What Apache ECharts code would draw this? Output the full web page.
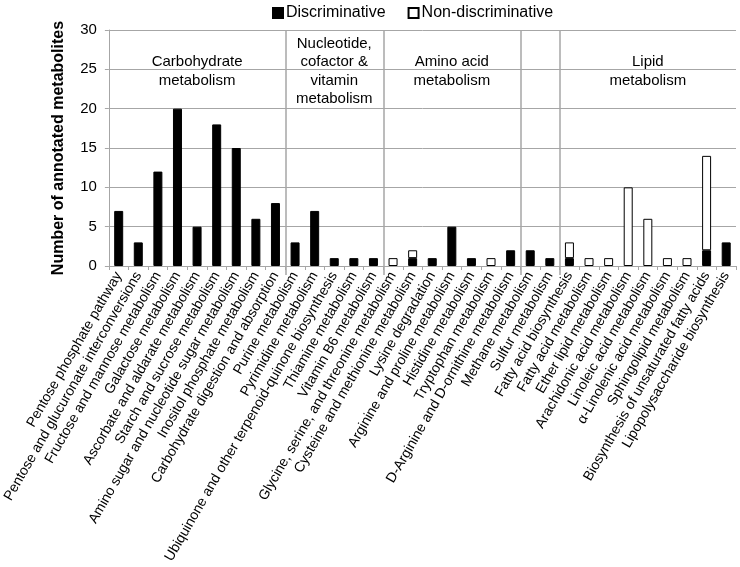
<!DOCTYPE html>
<html>
<head>
<meta charset="utf-8">
<script src="https://cdn.jsdelivr.net/npm/echarts@6/dist/echarts.min.js"></script>
<style>
html,body{margin:0;padding:0;background:#fff;}
#chart{width:740px;height:567px;}
</style>
</head>
<body>
<div id="chart"></div>
<script>
const categories = [
  'Pentose phosphate pathway',
  'Pentose and glucuronate interconversions',
  'Fructose and mannose metabolism',
  'Galactose metabolism',
  'Ascorbate and aldarate metabolism',
  'Starch and sucrose metabolism',
  'Amino sugar and nucleotide sugar metabolism',
  'Inositol phosphate metabolism',
  'Carbohydrate digestion and absorption',
  'Purine metabolism',
  'Pyrimidine metabolism',
  'Ubiquinone and other terpenoid-quinone biosynthesis',
  'Thiamine metabolism',
  'Vitamin B6 metabolism',
  'Glycine, serine, and threonine metabolism',
  'Cysteine and methionine metabolism',
  'Lysine degradation',
  'Arginine and proline metabolism',
  'Histidine metabolism',
  'Tryptophan metabolism',
  'D-Arginine and D-ornithine metabolism',
  'Methane metabolism',
  'Sulfur metabolism',
  'Fatty acid biosynthesis',
  'Fatty acid metabolism',
  'Ether lipid metabolism',
  'Arachidonic acid metabolism',
  'Linoleic acid metabolism',
  'α-Linolenic acid metabolism',
  'Sphingolipid metabolism',
  'Biosynthesis of unsaturated fatty acids',
  'Lipopolysaccharide biosynthesis'
];
const discriminative = [7,3,12,20,5,18,15,6,8, 3,7,1,1,1, 0,1,1,5,1,0,2, 2,1, 1,0,0,0,0,0,0,2,3];
const nonDiscriminative = [0,0,0,0,0,0,0,0,0, 0,0,0,0,0, 1,1,0,0,0,1,0, 0,0, 2,1,1,10,6,1,1,12,0];
const sectionNames = ['Carbohydrate\nmetabolism', 'Nucleotide,\ncofactor &\nvitamin\nmetabolism', 'Amino acid\nmetabolism', '', 'Lipid\nmetabolism'];
const sectionBounds = [0, 9, 14, 21, 23, 32];
const yTicks = [0, 5, 10, 15, 20, 25, 30];

const FONT = "'Liberation Sans', Arial, sans-serif";
const GRAY = '#a6a6a6';

const chart = echarts.init(document.getElementById('chart'), null, {renderer: 'canvas'});

const dividers = sectionBounds.slice(1, -1);
const markLineData = dividers.map(b => [{coord: [b, yTicks[0]]}, {coord: [b, yTicks[yTicks.length - 1]]}]);
const markAreaData = sectionNames.map((n, i) => [
  {xAxis: sectionBounds[i], yAxis: 19.5, name: n},
  {xAxis: sectionBounds[i + 1], yAxis: 30}
]);

const toBar = v => (v === 0 ? '-' : v);

chart.setOption({
  animation: false,
  textStyle: {fontFamily: FONT},
  legend: {
    top: 5,
    left: 272,
    padding: 0,
    itemWidth: 10,
    itemHeight: 10,
    itemGap: 22,
    icon: 'rect',
    textStyle: {fontSize: 16, color: '#000', fontFamily: FONT, padding: [0, 0, 0, -2]},
    data: ['Discriminative', 'Non-discriminative']
  },
  grid: {left: 107, right: 4, top: 30, bottom: 301, containLabel: false},
  xAxis: [{
    type: 'category',
    data: categories,
    boundaryGap: true,
    axisLine: {show: true, lineStyle: {color: GRAY, width: 1}},
    axisTick: {show: true, length: 4, alignWithLabel: false, interval: 0, lineStyle: {color: GRAY}},
    axisLabel: {
      interval: 0, rotate: 60, margin: 7, fontSize: 14, color: '#000', fontFamily: FONT
    },
    splitLine: {show: false}
  }, {
    type: 'value',
    min: sectionBounds[0],
    max: sectionBounds[sectionBounds.length - 1],
    position: 'bottom',
    axisLine: {show: false},
    axisLabel: {show: false},
    axisTick: {show: true, customValues: dividers, length: 9, lineStyle: {color: GRAY, width: 1.5}},
    splitLine: {show: false}
  }],
  yAxis: {
    type: 'value',
    min: 0, max: 30, interval: 5,
    name: 'Number of annotated metabolites',
    nameLocation: 'middle',
    nameGap: 42,
    nameTextStyle: {fontSize: 16, fontWeight: 'bold', color: '#000', fontFamily: FONT},
    axisLine: {show: true, lineStyle: {color: GRAY}},
    axisTick: {show: true, length: 4, lineStyle: {color: GRAY}},
    axisLabel: {fontSize: 15, color: '#000', margin: 12, fontFamily: FONT},
    splitLine: {show: true, lineStyle: {color: GRAY, width: 1}}
  },
  series: [{
    name: 'Discriminative',
    type: 'bar',
    stack: 'total',
    barWidth: 9,
    data: discriminative.map(toBar),
    itemStyle: {color: '#000', borderColor: '#000', borderWidth: 1}
  }, {
    name: 'Non-discriminative',
    type: 'bar',
    stack: 'total',
    barWidth: 9,
    data: nonDiscriminative.map(toBar),
    itemStyle: {color: '#fff', borderColor: '#000', borderWidth: 1}
  }, {
    name: 'sections',
    type: 'scatter',
    xAxisIndex: 1,
    yAxisIndex: 0,
    symbolSize: 0,
    silent: true,
    data: [[0, 0]],
    markLine: {
      silent: true,
      symbol: ['none', 'none'],
      label: {show: false},
      lineStyle: {color: GRAY, width: 1.5, type: 'solid'},
      emphasis: {disabled: true},
      data: markLineData
    },
    markArea: {
      silent: true,
      itemStyle: {color: 'rgba(0,0,0,0)'},
      label: {
        show: true, position: 'inside', fontSize: 15, lineHeight: 18.5,
        color: '#000', fontFamily: FONT, align: 'center'
      },
      emphasis: {disabled: true},
      data: markAreaData
    }
  }]
});
</script>
</body>
</html>
